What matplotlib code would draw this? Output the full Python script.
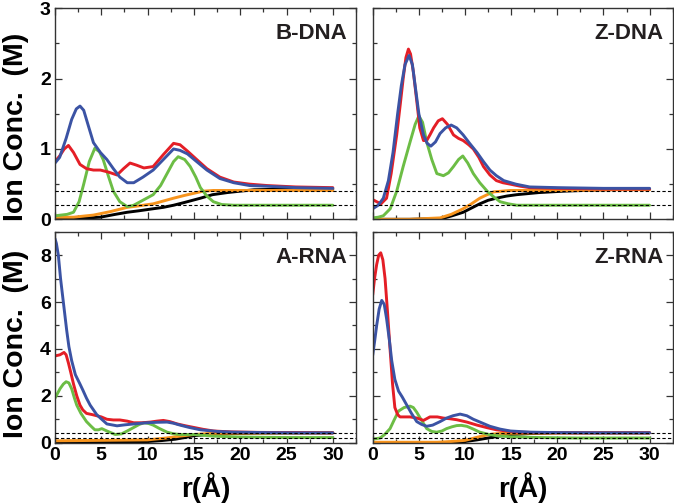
import matplotlib
matplotlib.use("Agg")
import matplotlib.pyplot as plt
from matplotlib.ticker import MultipleLocator

plt.rcParams['font.family'] = ['Liberation Sans', 'DejaVu Sans']
plt.rcParams['font.weight'] = 'bold'

## curves: (r values, concentration values)
## B-DNA
bdna_red = ([0, 0.5, 1.0, 1.45, 2.0, 2.7, 3.4, 4.15, 4.9, 5.8, 6.7, 7.4, 8.1, 8.8, 9.6, 10.6, 11.7, 12.8, 13.5, 14.3, 15.3, 16.4, 17.8, 19.3, 21, 22.9, 26, 30],
            [0.82, 0.9, 1.0, 1.05, 0.95, 0.78, 0.72, 0.7, 0.7, 0.67, 0.63, 0.72, 0.8, 0.77, 0.73, 0.75, 0.92, 1.08, 1.06, 0.97, 0.85, 0.72, 0.6, 0.53, 0.5, 0.48, 0.46, 0.45])
bdna_blue = ([0, 0.5, 1.2, 1.8, 2.3, 2.7, 3.1, 3.6, 4.15, 4.9, 5.6, 6.3, 7.0, 7.8, 8.5, 9.5, 10.6, 11.7, 12.8, 13.5, 14.3, 15.3, 16.4, 17.8, 19.3, 21, 22.9, 26, 30],
             [0.8, 0.88, 1.15, 1.42, 1.57, 1.61, 1.55, 1.33, 1.09, 0.95, 0.85, 0.72, 0.6, 0.52, 0.52, 0.6, 0.7, 0.85, 1.0, 0.98, 0.93, 0.82, 0.7, 0.58, 0.52, 0.48, 0.47, 0.45, 0.44])
bdna_green = ([0, 1.3, 2.0, 2.6, 3.1, 3.7, 4.3, 4.8, 5.2, 5.8, 6.3, 7.0, 7.8, 8.5, 9.2, 10.6, 11.4, 12.1, 12.8, 13.3, 14.0, 14.6, 15.2, 15.7, 16.4, 17.1, 18.0, 19.3, 22, 26, 30],
              [0.05, 0.07, 0.1, 0.25, 0.5, 0.82, 1.01, 0.96, 0.85, 0.6, 0.4, 0.25, 0.18, 0.2, 0.25, 0.35, 0.48, 0.65, 0.82, 0.89, 0.85, 0.75, 0.6, 0.45, 0.33, 0.25, 0.21, 0.2, 0.2, 0.2, 0.2])
bdna_orange = ([0, 2, 4.15, 6, 7.8, 9, 10.6, 11.7, 12.8, 14, 15, 16, 17.1, 20, 25, 30],
               [0.03, 0.03, 0.06, 0.11, 0.17, 0.19, 0.22, 0.26, 0.3, 0.34, 0.37, 0.4, 0.41, 0.41, 0.41, 0.41])
bdna_black = ([0, 2, 4.9, 6.5, 7.8, 9, 10.6, 11.7, 12.8, 14, 15.7, 17, 18.6, 20, 21.5, 25, 30],
              [0.0, 0.01, 0.03, 0.07, 0.1, 0.12, 0.15, 0.17, 0.2, 0.24, 0.3, 0.35, 0.38, 0.4, 0.42, 0.43, 0.43])

## Z-DNA
zdna_red = ([0, 0.43, 0.9, 1.5, 2.0, 2.6, 3.0, 3.3, 3.6, 3.87, 4.1, 4.4, 4.8, 5.1, 5.5, 5.85, 6.2, 6.6, 7.1, 7.55, 8.1, 8.75, 9.3, 9.8, 10.4, 10.9, 11.5, 12.0, 12.7, 13.4, 14.1, 14.9, 16, 17, 20, 25, 30],
            [0.28, 0.25, 0.22, 0.3, 0.65, 1.2, 1.65, 2.0, 2.3, 2.42, 2.35, 2.1, 1.65, 1.3, 1.12, 1.12, 1.2, 1.3, 1.4, 1.43, 1.35, 1.2, 1.15, 1.12, 1.06, 1.0, 0.88, 0.75, 0.63, 0.55, 0.52, 0.5, 0.47, 0.45, 0.44, 0.43, 0.43])
zdna_blue = ([0, 0.6, 1.15, 1.7, 2.2, 2.7, 3.1, 3.5, 3.94, 4.3, 4.6, 5.0, 5.5, 5.9, 6.3, 6.8, 7.3, 7.9, 8.5, 9.1, 9.8, 10.5, 11.3, 12.0, 12.7, 13.4, 14.2, 15.5, 17, 20, 25, 30],
             [0.15, 0.2, 0.3, 0.55, 0.95, 1.5, 1.9, 2.2, 2.33, 2.2, 1.9, 1.5, 1.2, 1.08, 1.04, 1.1, 1.22, 1.3, 1.34, 1.3, 1.2, 1.08, 0.95, 0.82, 0.7, 0.62, 0.55, 0.5, 0.46, 0.45, 0.44, 0.44])
zdna_green = ([0, 0.6, 1.15, 1.9, 2.6, 3.3, 4.05, 4.6, 5.0, 5.4, 5.85, 6.4, 6.95, 7.66, 8.2, 8.75, 9.3, 9.76, 10.3, 10.9, 11.6, 12.4, 13.1, 13.8, 14.7, 15.6, 18, 22, 26, 30],
              [0.02, 0.03, 0.05, 0.15, 0.4, 0.75, 1.1, 1.35, 1.47, 1.38, 1.1, 0.85, 0.65, 0.62, 0.66, 0.75, 0.85, 0.9, 0.8, 0.65, 0.52, 0.4, 0.32, 0.25, 0.22, 0.2, 0.2, 0.2, 0.2, 0.2])
zdna_orange = ([0, 4, 7.3, 8.5, 9.8, 10.7, 11.6, 12.4, 13.1, 14.0, 14.9, 18, 22, 26, 30],
               [0.0, 0.0, 0.02, 0.07, 0.15, 0.22, 0.3, 0.35, 0.39, 0.4, 0.41, 0.41, 0.41, 0.42, 0.42])
zdna_black = ([0, 4, 7.5, 8.6, 9.8, 10.7, 11.6, 12.5, 13.4, 14.5, 15.6, 18, 20.7, 25, 30],
              [0.0, 0.0, 0.01, 0.05, 0.1, 0.16, 0.22, 0.27, 0.3, 0.33, 0.35, 0.38, 0.4, 0.42, 0.43])

## A-RNA
arna_red = ([0, 0.54, 0.97, 1.2, 1.45, 1.7, 2.0, 2.35, 2.7, 3.0, 3.4, 4.0, 4.5, 5.0, 5.6, 6.3, 7.0, 7.8, 8.5, 9.4, 10.3, 11.0, 11.7, 12.4, 13.2, 14.1, 15.0, 16.0, 17.1, 19, 22, 26, 30],
            [3.7, 3.75, 3.85, 3.75, 3.4, 3.0, 2.5, 2.0, 1.6, 1.4, 1.25, 1.2, 1.15, 1.1, 1.0, 0.97, 0.97, 0.92, 0.85, 0.85, 0.88, 0.92, 0.95, 0.9, 0.8, 0.72, 0.65, 0.57, 0.5, 0.46, 0.44, 0.43, 0.42])
arna_blue = ([0, 0.15, 0.36, 0.6, 0.9, 1.26, 1.5, 1.8, 2.2, 2.7, 3.0, 3.4, 3.8, 4.15, 4.5, 4.9, 5.6, 6.7, 7.5, 8.5, 9.9, 11.0, 12.1, 12.8, 13.5, 14.5, 15.7, 17.5, 19.3, 23, 26, 30],
             [8.7, 8.5, 8.0, 7.0, 6.0, 4.8, 4.1, 3.5, 2.9, 2.5, 2.25, 1.9, 1.6, 1.4, 1.2, 1.05, 0.8, 0.72, 0.76, 0.8, 0.85, 0.87, 0.88, 0.83, 0.75, 0.65, 0.55, 0.48, 0.45, 0.43, 0.42, 0.42])
arna_green = ([0, 0.54, 0.9, 1.2, 1.5, 1.8, 2.1, 2.35, 2.8, 3.4, 3.9, 4.3, 4.7, 5.05, 5.6, 6.5, 7.2, 7.8, 8.5, 9.1, 9.6, 10.1, 10.6, 11.3, 12.1, 12.8, 13.5, 15.0, 17.1, 20, 25, 30],
              [1.9, 2.3, 2.5, 2.6, 2.55, 2.3, 1.9, 1.6, 1.25, 0.9, 0.7, 0.55, 0.55, 0.6, 0.5, 0.35, 0.38, 0.5, 0.65, 0.78, 0.85, 0.82, 0.75, 0.6, 0.45, 0.38, 0.35, 0.35, 0.28, 0.24, 0.22, 0.22])
arna_orange = ([0, 5, 10, 12, 13.5, 15, 17, 20, 25, 30],
               [0.08, 0.1, 0.12, 0.2, 0.28, 0.35, 0.4, 0.41, 0.42, 0.42])
arna_black = ([0, 5, 10, 11.5, 13, 14, 15, 16.5, 18, 22, 30],
              [0.02, 0.03, 0.05, 0.09, 0.15, 0.22, 0.3, 0.35, 0.38, 0.41, 0.42])

## Z-RNA
zrna_red = ([0, 0.2, 0.43, 0.65, 0.87, 1.1, 1.34, 1.6, 1.88, 2.15, 2.4, 2.7, 2.96, 3.5, 4.05, 4.8, 5.5, 6.2, 7.0, 7.66, 8.4, 9.1, 10.2, 11.3, 12.4, 13.4, 14.5, 15.6, 18, 22, 26, 30],
            [6.3, 7.0, 7.6, 8.0, 8.1, 7.8, 7.0, 5.6, 4.0, 2.5, 1.5, 1.2, 1.1, 1.1, 1.1, 1.05, 0.95, 1.1, 1.1, 1.05, 1.02, 0.98, 0.88, 0.75, 0.64, 0.55, 0.5, 0.45, 0.43, 0.42, 0.42, 0.42])
zrna_blue = ([0, 0.2, 0.43, 0.7, 0.98, 1.25, 1.5, 1.8, 2.06, 2.4, 2.8, 3.2, 3.7, 4.2, 4.77, 5.3, 5.85, 6.5, 7.3, 8.0, 8.7, 9.47, 10.2, 10.9, 11.8, 12.7, 13.8, 14.9, 17.1, 20, 25, 30],
             [3.73, 4.3, 5.0, 5.7, 6.07, 5.9, 5.3, 4.4, 3.5, 2.7, 2.2, 1.95, 1.6, 1.25, 0.9, 0.78, 0.7, 0.75, 0.9, 1.05, 1.15, 1.22, 1.15, 1.0, 0.85, 0.7, 0.58, 0.5, 0.45, 0.43, 0.42, 0.42])
zrna_green = ([0, 0.8, 1.3, 1.88, 2.3, 2.8, 3.4, 4.05, 4.4, 4.77, 5.3, 5.85, 6.4, 6.94, 7.5, 8.0, 8.6, 9.1, 9.6, 10.2, 10.9, 11.6, 12.5, 13.4, 15, 18, 22, 26, 30],
              [0.15, 0.2, 0.35, 0.6, 0.95, 1.35, 1.5, 1.56, 1.5, 1.3, 0.95, 0.6, 0.48, 0.45, 0.5, 0.6, 0.68, 0.73, 0.74, 0.7, 0.58, 0.45, 0.36, 0.3, 0.25, 0.22, 0.2, 0.2, 0.2])
zrna_orange = ([0, 4, 7, 8.5, 10, 11, 12, 13, 14, 17, 22, 30],
               [0.02, 0.02, 0.02, 0.05, 0.1, 0.2, 0.3, 0.37, 0.4, 0.41, 0.42, 0.42])
zrna_black = ([0, 4, 8, 9, 10, 11.3, 12.5, 13.7, 15, 17, 20, 25, 30],
              [0.0, 0.0, 0.01, 0.02, 0.05, 0.12, 0.2, 0.28, 0.35, 0.39, 0.42, 0.42, 0.42])

panel_names = ['B-DNA', 'Z-DNA', 'A-RNA', 'Z-RNA']
ref_levels = [0.4, 0.2]

colors = {'black': 'black', 'orange': '#f7941d', 'green': '#6cbd45', 'red': '#e41e26', 'blue': '#3b53a4'}

panels = [
    {'black': bdna_black, 'orange': bdna_orange, 'green': bdna_green, 'red': bdna_red, 'blue': bdna_blue},
    {'black': zdna_black, 'orange': zdna_orange, 'green': zdna_green, 'red': zdna_red, 'blue': zdna_blue},
    {'black': arna_black, 'orange': arna_orange, 'green': arna_green, 'red': arna_red, 'blue': arna_blue},
    {'black': zrna_black, 'orange': zrna_orange, 'green': zrna_green, 'red': zrna_red, 'blue': zrna_blue},
]

fig = plt.figure(figsize=(6.74, 5.04), dpi=100)

## axes boxes in figure fraction (left, bottom, width, height)
boxes = [
    (55/674, 1 - 219.3/504, 301/674, 211/504),
    (372.7/674, 1 - 219.3/504, 300/674, 211/504),
    (55/674, 1 - 442.7/504, 301/674, 211/504),
    (372.7/674, 1 - 442.7/504, 300/674, 211/504),
]
ylabel_y = [0.44, None, 0.47, None]

for i, (name, series, box) in enumerate(zip(panel_names, panels, boxes)):
    ax = fig.add_axes(box)
    for key in ['black', 'orange', 'green', 'red', 'blue']:
        xs, ys = series[key]
        ax.plot(xs, ys, color=colors[key], lw=2.1, solid_joinstyle='round', solid_capstyle='round')
    for lvl in ref_levels:
        ax.axhline(lvl, color='black', lw=0.8, ls=(0, (3, 2)), zorder=5)

    ax.set_xlim(0, 32.5)
    ax.xaxis.set_major_locator(MultipleLocator(5))
    ax.xaxis.set_minor_locator(MultipleLocator(2.5))
    if i < 2:
        ax.set_ylim(0, 3)
        ax.yaxis.set_major_locator(MultipleLocator(1))
        ax.yaxis.set_minor_locator(MultipleLocator(0.5))
    else:
        ax.set_ylim(0, 9)
        ax.yaxis.set_major_locator(MultipleLocator(2))
        ax.yaxis.set_minor_locator(MultipleLocator(1))

    ax.tick_params(which='both', direction='in', top=True, right=True, color='#333333', width=0.9)
    ax.tick_params(which='major', length=5, labelsize=14, pad=3)
    ax.tick_params(which='minor', length=3)
    for sp in ax.spines.values():
        sp.set_color('#333333')
        sp.set_linewidth(1.0)

    if i < 2:
        ax.tick_params(labelbottom=False)
    else:
        ax.set_xlabel('r(Å)', fontsize=20, fontweight='bold', labelpad=6)
    if i % 2 == 1:
        ax.tick_params(labelleft=False)
    else:
        ax.set_ylabel('Ion Conc.  (M)', fontsize=20.5, fontweight='bold')
        ax.yaxis.set_label_coords(-0.085, ylabel_y[i])

    ax.text(0.97, 0.88, name, transform=ax.transAxes, ha='right', va='center',
            fontsize=16, fontweight='bold', color='#231f20')

fig.savefig('out.png', dpi=100)
